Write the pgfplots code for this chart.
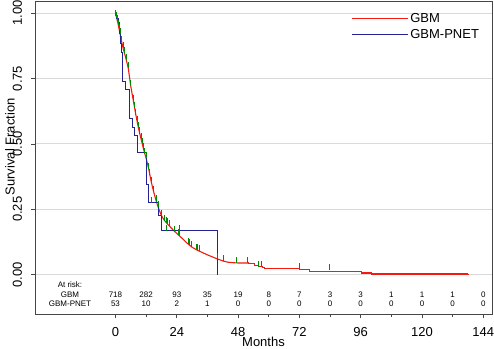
\documentclass[border=0pt]{standalone}
\usepackage{pgfplots}
\pgfplotsset{compat=1.18}
\usepackage{fontspec}
\setmainfont{Liberation Sans}
\definecolor{kmred}{RGB}{245,25,15}
\definecolor{kmblue}{RGB}{35,35,150}
\definecolor{cgreen}{RGB}{0,140,0}
\definecolor{gridgray}{RGB}{218,218,218}
\definecolor{framegray}{RGB}{70,70,70}
\tikzset{risk/.style={font=\fontsize{8}{9}\selectfont}}
\pgfdeclareplotmark{cens}{\pgfpathmoveto{\pgfpoint{0pt}{0pt}}\pgfpathlineto{\pgfpoint{0pt}{6pt}}\pgfusepathqstroke}
\begin{document}
\begin{tikzpicture}
\begin{axis}[
  name=ax,
  scale only axis, width=457pt, height=313pt,
  xmin=-31.5, xmax=147.4, ymin=-0.15, ymax=1.046,
  axis line style={framegray, line width=0.8pt},
  xtick={0,24,...,144}, minor xtick={12,36,...,132},
  ytick={0,0.25,0.5,0.75,1},
  yticklabel style={xshift=-5.5pt, rotate=90, anchor=south},
  yticklabels={0.00,0.25,0.50,0.75,1.00},
  xticklabel style={yshift=-6pt},
  tick align=outside, tick pos=left,
  major tick length=4pt, minor tick length=3pt,
  tick style={framegray, line width=0.6pt},
  ymajorgrids, grid style={gridgray, line width=0.9pt},
  xlabel={Months}, ylabel={Survival Fraction},
  xlabel style={yshift=7pt},
  ylabel style={at={(axis description cs:-0.044,0.534)}, anchor=south, inner sep=0pt},
  ticklabel style={font=\fontsize{13}{14}\selectfont},
  label style={font=\fontsize{13}{14}\selectfont},
  /pgf/number format/assume math mode=true,
  legend style={draw=none, fill=none, at={(axis description cs:0.685,0.975)}, anchor=north west,
    font=\fontsize{13}{14}\selectfont, row sep=2pt},
  legend cell align=left,
  legend image code/.code={\draw[#1] (0pt,0pt) -- (50pt,0pt); \path (0pt,0pt) -- (56pt,0pt);},
]
\addplot[kmred, line width=1.1pt, sharp plot] coordinates {
(0,1.0) (1,0.96) (2,0.91) (3,0.865) (4,0.83) (5,0.79) (6,0.72) (7,0.665) (8,0.61)
(9,0.56) (10,0.52) (11,0.48) (12,0.445) (13,0.405) (14,0.355) (15,0.315) (16,0.28)
(17,0.25) (18,0.226) (19,0.21) (20,0.198) (21,0.187) (22,0.177) (23,0.167) (24,0.158)
(26,0.14) (28,0.121) (30,0.105) (32,0.094) (34,0.085) (36,0.076) (38,0.068) (40,0.06)
(42,0.053) (44,0.048) (46,0.046) (48,0.045) (51.9,0.045)};
\addlegendentry{GBM}
\addplot[kmred, line width=1.1pt, const plot, forget plot] coordinates {
(51.9,0.045) (52,0.042) (54.6,0.036) (56,0.032) (57.7,0.028) (58.5,0.023) (72.2,0.019)
(76,0.0115) (96.3,0.0065) (100.3,0.0027) (138,0.0027)};
\addplot[kmred, line width=1.1pt, forget plot] coordinates {(138,0.0027) (138,0)};
\addplot[kmblue, line width=1pt, const plot, mark=none] coordinates {
(0,1.0) (0.5,0.98) (1.0,0.962) (1.5,0.923) (1.8,0.885) (2.2,0.848) (2.7,0.737)
(4.0,0.708) (5.4,0.596) (6.6,0.564) (7.6,0.532) (8.8,0.468) (12.3,0.346) (12.9,0.276)
(16.8,0.226) (18.2,0.168) (40,0)};
\addlegendentry{GBM-PNET}
\addplot[only marks, mark=cens, cgreen, mark options={line width=1pt}, forget plot] coordinates {
(0.2,0.99) (0.5,0.98) (0.8,0.968) (1.2,0.952) (1.6,0.936) (2.0,0.92) (2.5,0.888) (3,0.865)
(3.5,0.848) (4.2,0.822) (5,0.79) (6,0.72) (7,0.665) (7.5,0.637) (8,0.61) (8.5,0.585)
(9,0.56) (9.5,0.54) (10,0.52) (10.5,0.50) (11,0.48) (11.5,0.462) (12,0.445) (13,0.405)
(13.5,0.38) (14.1,0.35) (15,0.315) (16,0.28) (16.7,0.26) (18,0.226) (19.3,0.206)
(20,0.198) (20.5,0.192) (21.2,0.185) (23.2,0.165) (24.5,0.153) (25.2,0.147) (28.4,0.118)
(29,0.113) (29.7,0.107) (31.6,0.096) (32.2,0.093) (32.9,0.09) (39.8,0.061) (42.4,0.052)
(47.3,0.045) (51.5,0.045) (56.1,0.031) (57.1,0.029) (71.9,0.023) (83.6,0.019)
(14.2,0.276) (20,0.168) (25.2,0.168)};
\foreach \x/\a/\b in {0/718/53,12/282/10,24/93/2,36/35/1,48/19/0,60/8/0,72/7/0,84/3/0,96/3/0,108/1/0,120/1/0,132/1/0,144/0/0}{
  \edef\tmp{\noexpand\node[risk] at (axis cs:\x,-0.075) {\a};
    \noexpand\node[risk] at (axis cs:\x,-0.11) {\b};}
  \tmp
}
\node[risk] at (axis cs:-17.8,-0.037) {At risk:};
\node[risk] at (axis cs:-17.8,-0.075) {GBM};
\node[risk] at (axis cs:-17.8,-0.11) {GBM-PNET};
\end{axis}
\pgfresetboundingbox
\path ([xshift=-35pt,yshift=-35pt]ax.south west) rectangle ([xshift=2pt,yshift=1pt]ax.north east);
\end{tikzpicture}
\end{document}
